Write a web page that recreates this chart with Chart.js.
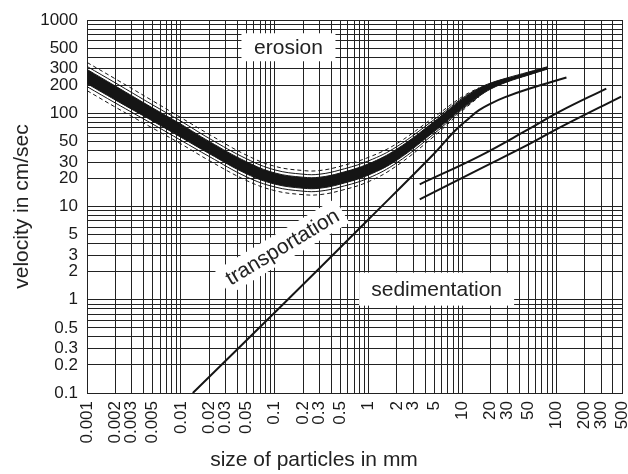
<!DOCTYPE html>
<html>
<head>
<meta charset="utf-8">
<script src="https://cdn.jsdelivr.net/npm/chart.js@4.4.1/dist/chart.umd.min.js"></script>
<style>
  html, body { margin: 0; padding: 0; background: #fff; }
  #wrap { width: 628px; height: 474px; }
</style>
</head>
<body>
<div id="wrap"><canvas id="hjulstrom"></canvas></div>
<script>
// particle sizes (mm) along the erosion band
const sizes = [0.001, 0.002, 0.005, 0.01, 0.02, 0.05, 0.1, 0.2, 0.3, 0.5, 1, 2, 5, 7, 10, 15, 20, 30, 50, 80];
const bandTop = [295, 196, 114, 76.4, 49.9, 30.2, 22.9, 20.6, 20.6, 22.9, 28.7, 41.3, 81.5, 107.5, 142, 185.6, 211, 239.6, 276, 315];
const bandBottom = [208, 139, 82.6, 55.3, 37.0, 22.4, 17.4, 15.7, 15.7, 17.4, 21.8, 31.4, 63.6, 83.9, 113.6, 152, 182, 217, 256, 297];

// thin and dashed envelopes around the band
const innerSizes = [0.001, 0.002, 0.005, 0.01, 0.02, 0.05, 0.1, 0.2, 0.3, 0.5, 1, 2, 5, 10, 15];
const thinUpper = [318, 212, 123, 82.3, 53.8, 32.5, 24.7, 22.2, 22.2, 24.7, 30.9, 43.9, 85.7, 145.7, 185.6];
const thinLower = [193, 129, 76.6, 51.3, 34.4, 20.8, 16.2, 14.6, 14.6, 16.2, 20.2, 29.5, 60.5, 110.7, 152];
const dashUpper = [351, 234, 136, 89.8, 59.4, 35.5, 27.0, 24.3, 24.3, 27.0, 33.7, 47.3, 91.2, 151, 187.8];
const dashLower = [175, 116.5, 69.3, 47.0, 31.1, 19.0, 14.8, 13.4, 13.4, 14.8, 18.5, 27.4, 56.9, 106.7, 150];

// transportation / sedimentation boundary
const settleSizes = [0.0134, 0.1, 1, 5, 8.2, 12, 15, 20, 28, 52, 128];
const settleVel = [0.1, 0.73, 7.3, 37, 64, 90, 108, 127, 148, 184, 242];

// coarse lines on the right
const coarseSizesC = [3.5, 15, 50, 108, 340];
const coarseC = [17.3, 34.5, 67, 104, 184];
const coarseSizesD = [3.5, 15, 50, 108, 490];
const coarseD = [11.9, 25, 46, 70, 151];

// tick labels
const xLabels = [0.001, 0.002, 0.003, 0.005, 0.01, 0.02, 0.03, 0.05, 0.1, 0.2, 0.3, 0.5, 1, 2, 3, 5, 10, 20, 30, 50, 100, 200, 300, 500];
const yLabels = [1000, 500, 300, 200, 100, 50, 30, 20, 10, 5, 3, 2, 1, 0.5, 0.3, 0.2, 0.1];

const pts = (xs, ys) => xs.map((x, i) => ({x: x, y: ys[i]}));

function logGrid(min, max) {
  const out = [];
  for (let e = -4; e <= 3; e++) {
    for (let m = 1; m <= 9; m++) {
      const v = parseFloat((m * Math.pow(10, e)).toPrecision(3));
      if (v >= min * 0.9999 && v <= max * 1.0001) out.push({value: v});
    }
  }
  return out;
}
const hasLabel = (list, v) => list.some(l => Math.abs(l - v) < l * 1e-6);

const ink = '#151515';
const font = '"Liberation Sans", Arial, Helvetica, sans-serif';

const areaLabels = {
  id: 'areaLabels',
  afterDatasetsDraw(chart) {
    const {ctx, scales: {x, y}} = chart;
    const items = [
      {text: 'erosion', d: 0.14, v: 510, angle: 0, w: 94, h: 28},
      {text: 'transportation', d: 0.12, v: 3.7, angle: -31, w: 140, h: 28},
      {text: 'sedimentation', d: 5.3, v: 1.3, angle: 0, w: 155, h: 33}
    ];
    ctx.save();
    ctx.font = '21px ' + font;
    ctx.textAlign = 'center';
    ctx.textBaseline = 'middle';
    items.forEach(it => {
      ctx.save();
      ctx.translate(x.getPixelForValue(it.d), y.getPixelForValue(it.v));
      ctx.rotate(it.angle * Math.PI / 180);
      ctx.fillStyle = '#fff';
      ctx.fillRect(-it.w / 2, -it.h / 2, it.w, it.h);
      ctx.fillStyle = '#222';
      ctx.fillText(it.text, 0, 1);
      ctx.restore();
    });
    ctx.fillStyle = '#222';
    ctx.fillText('size of particles in mm', chart.width / 2, 460);
    ctx.restore();
  }
};

new Chart(document.getElementById('hjulstrom'), {
  type: 'line',
  data: {
    datasets: [
      { data: pts(sizes, bandTop), borderColor: ink, borderWidth: 1, fill: false },
      { data: pts(sizes, bandBottom), borderColor: ink, borderWidth: 1, fill: '-1', backgroundColor: ink },
      { data: pts(innerSizes, thinUpper), borderColor: ink, borderWidth: 1, fill: false },
      { data: pts(innerSizes, thinLower), borderColor: ink, borderWidth: 1, fill: false },
      { data: pts(innerSizes, dashUpper), borderColor: ink, borderWidth: 1, borderDash: [4, 3], fill: false },
      { data: pts(innerSizes, dashLower), borderColor: ink, borderWidth: 1, borderDash: [4, 3], fill: false },
      { data: pts(settleSizes, settleVel), borderColor: ink, borderWidth: 2, fill: false },
      { data: pts(coarseSizesC, coarseC), borderColor: ink, borderWidth: 2, fill: false },
      { data: pts(coarseSizesD, coarseD), borderColor: ink, borderWidth: 2, fill: false }
    ]
  },
  options: {
    responsive: true,
    maintainAspectRatio: false,
    animation: false,
    layout: { padding: { top: 20, right: 6, left: 0, bottom: 0 } },
    elements: { point: { radius: 0 }, line: { tension: 0.4 } },
    plugins: { legend: { display: false }, tooltip: { enabled: false } },
    scales: {
      x: {
        type: 'logarithmic',
        min: 0.001,
        max: 500,
        afterBuildTicks: s => { s.ticks = logGrid(0.001, 500); },
        afterFit: s => { s.height = 81; s.paddingLeft = 0; s.paddingRight = 0; },
        grid: { color: '#222', lineWidth: 1, drawTicks: false },
        border: { color: '#222' },
        ticks: {
          autoSkip: false,
          minRotation: 90,
          maxRotation: 90,
          padding: 8,
          color: '#1a1a1a',
          font: { family: font, size: 17 },
          callback: v => hasLabel(xLabels, v) ? String(v) : ''
        }
      },
      y: {
        type: 'logarithmic',
        min: 0.1,
        max: 1000,
        afterBuildTicks: s => { s.ticks = logGrid(0.1, 1000); },
        afterFit: s => { s.width = 87; s.paddingTop = 0; s.paddingBottom = 0; },
        grid: { color: '#222', lineWidth: 1, drawTicks: false },
        border: { color: '#222' },
        title: {
          display: true,
          text: 'velocity in cm/sec',
          color: '#222',
          font: { family: font, size: 21 },
          padding: { top: 10, bottom: 0 }
        },
        ticks: {
          autoSkip: false,
          padding: 9,
          color: '#1a1a1a',
          font: { family: font, size: 17 },
          callback: v => hasLabel(yLabels, v) ? String(v) : ''
        }
      }
    }
  },
  plugins: [areaLabels]
});
</script>
</body>
</html>
